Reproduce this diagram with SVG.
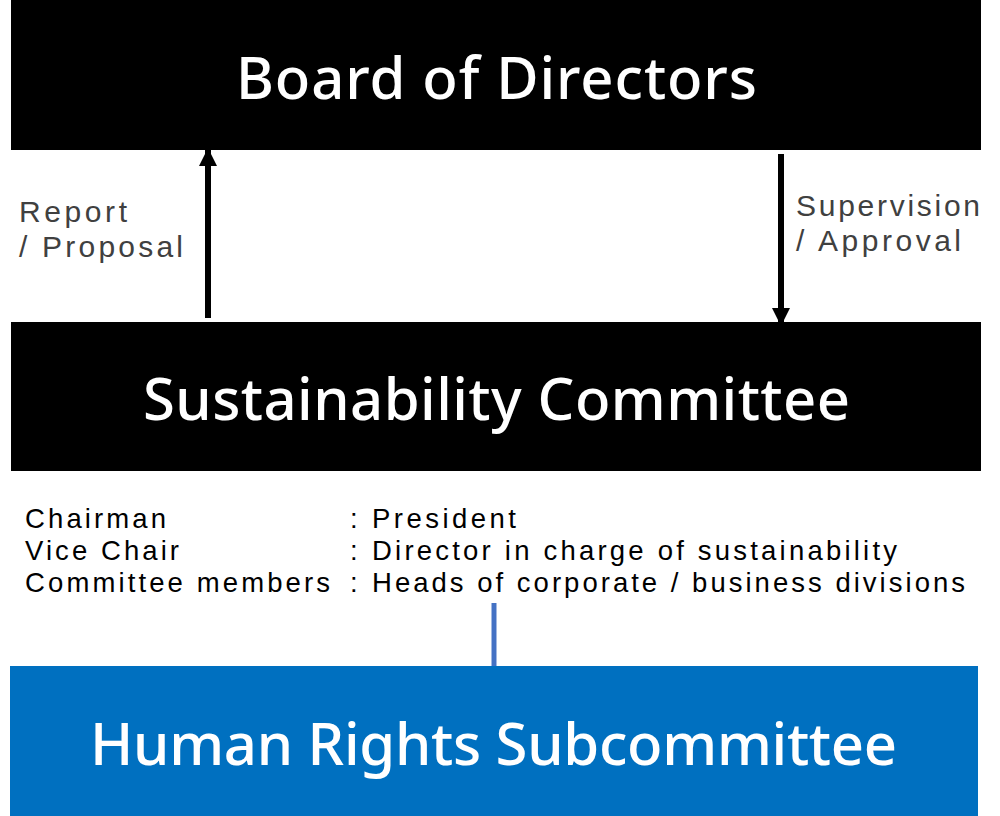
<svg xmlns="http://www.w3.org/2000/svg" width="1000" height="816" viewBox="0 0 1000 816">
<style>
.box{fill:#000}
.title{font-family:"Noto Sans","Liberation Sans",sans-serif;font-weight:500;fill:#fff}
.lbl{font-family:"Liberation Sans","Noto Sans",sans-serif;font-size:30px;fill:#404040}
.mem{font-family:"Liberation Sans","Noto Sans",sans-serif;font-size:27.5px;fill:#000}
.arr{stroke:#000;stroke-width:6;fill:none}
</style>
<defs>
<marker id="ah" markerUnits="userSpaceOnUse" markerWidth="20" markerHeight="18" refX="16" refY="9" orient="auto">
<path d="M0,0 L18,9 L0,18 z" fill="#000"/>
</marker>
</defs>
<rect width="1000" height="816" fill="#fff"/>
<g id="board">
<rect class="box" x="11" y="0" width="970" height="150"/>
<text class="title" x="236" y="99" font-size="58" textLength="521" lengthAdjust="spacing">Board of Directors</text>
</g>
<g id="sustainability">
<rect class="box" x="11" y="322" width="970" height="149"/>
<text class="title" x="143" y="420" font-size="58" textLength="707" lengthAdjust="spacing">Sustainability Committee</text>
</g>
<g id="members">
<text class="mem" x="25" y="528" textLength="141" lengthAdjust="spacing">Chairman</text>
<text class="mem" x="25" y="560" textLength="154" lengthAdjust="spacing">Vice Chair</text>
<text class="mem" x="25" y="592" textLength="305" lengthAdjust="spacing">Committee members</text>
<text class="mem" x="350" y="528">:</text>
<text class="mem" x="350" y="560">:</text>
<text class="mem" x="350" y="592">:</text>
<text class="mem" x="372" y="528" textLength="144" lengthAdjust="spacing">President</text>
<text class="mem" x="372" y="560" textLength="525" lengthAdjust="spacing">Director in charge of sustainability</text>
<text class="mem" x="372" y="592" textLength="593" lengthAdjust="spacing">Heads of corporate / business divisions</text>
</g>
<g id="human-rights">
<rect x="10" y="666" width="968" height="150" fill="#0070c0"/>
<text class="title" x="90" y="765" font-size="58" textLength="807" lengthAdjust="spacing">Human Rights Subcommittee</text>
</g>
<g id="connectors">
<line class="arr" x1="208" y1="318" x2="208" y2="150" marker-end="url(#ah)"/>
<line class="arr" x1="781" y1="154" x2="781" y2="324" marker-end="url(#ah)"/>
<line x1="494" y1="603" x2="494" y2="666" stroke="#4472c4" stroke-width="5"/>
<text class="lbl" x="19" y="222" textLength="108" lengthAdjust="spacing">Report</text>
<text class="lbl" x="19" y="257" textLength="164" lengthAdjust="spacing">/ Proposal</text>
<text class="lbl" x="796" y="216" textLength="184" lengthAdjust="spacing">Supervision</text>
<text class="lbl" x="796" y="251" textLength="165" lengthAdjust="spacing">/ Approval</text>
</g>
</svg>
